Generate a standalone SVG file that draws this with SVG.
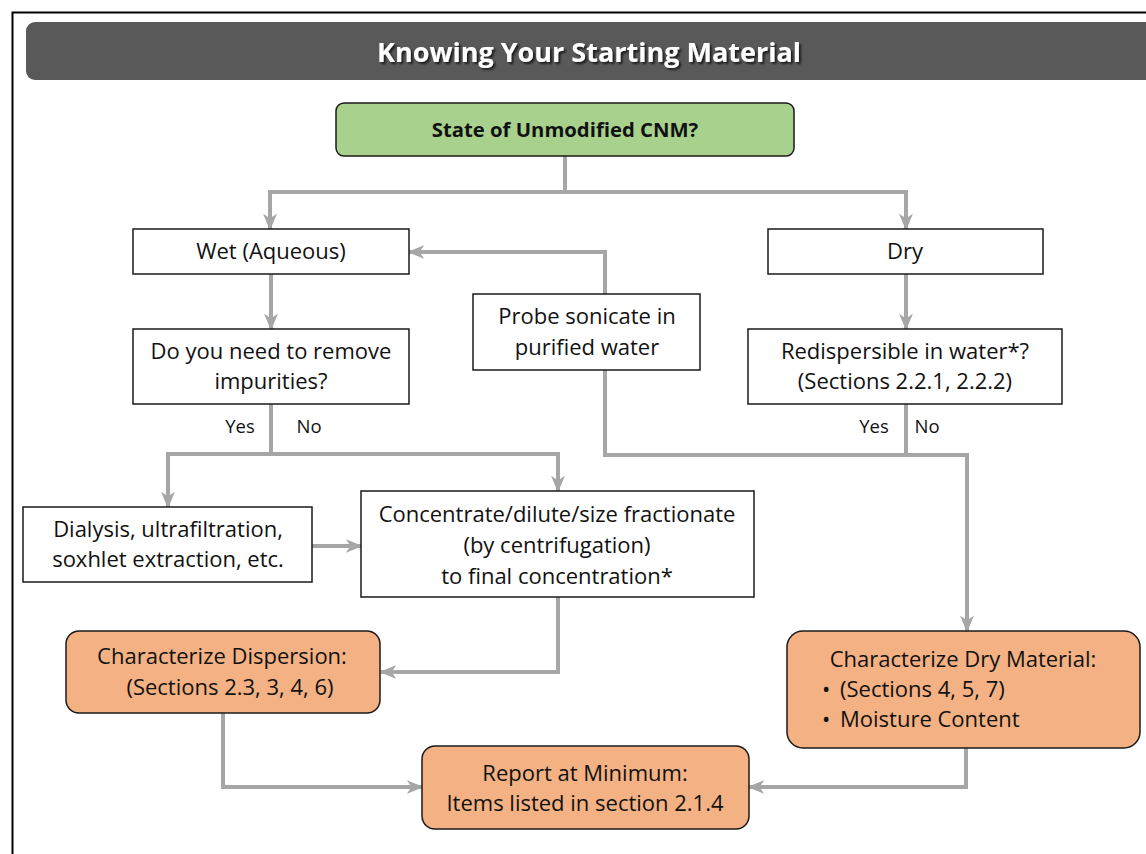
<svg xmlns="http://www.w3.org/2000/svg" width="1146" height="854" viewBox="0 0 1146 854">
  <style>
    .box { fill: #ffffff; stroke: #1a1a1a; stroke-width: 1.5; }
    .start { fill: #a9d18e; stroke: #1a1a1a; stroke-width: 1.5; }
    .result { fill: #f4b183; stroke: #1a1a1a; stroke-width: 1.5; }
    .t { font-family: "Open Sans", "DejaVu Sans", sans-serif; font-size: 22px; fill: #111111; text-anchor: middle; }
    .left { text-anchor: start; }
    .lbl { font-family: "Open Sans", "DejaVu Sans", sans-serif; font-size: 18.5px; fill: #111111; text-anchor: middle; }
    .bold { font-weight: bold; }
    .conn { fill: none; stroke: #a6a6a6; stroke-width: 4; stroke-linejoin: miter; }
    .arrow { marker-end: url(#head); }
  </style>
  <defs>
    <marker id="head" viewBox="0 0 12 10" refX="11" refY="5" markerWidth="4.2" markerHeight="3.6" orient="auto" markerUnits="strokeWidth">
      <path d="M0,0 L12,5 L0,10 L3.5,5 Z" fill="#a6a6a6"/>
    </marker>
    <filter id="shadow" x="-5%" y="-20%" width="110%" height="150%">
      <feDropShadow dx="2" dy="2" stdDeviation="1.2" flood-color="#000000" flood-opacity="0.7"/>
    </filter>
  </defs>

  <rect width="1146" height="854" fill="#ffffff"/>
  <!-- frame -->
  <path d="M12.5,854 V12.5 H1146" fill="none" stroke="#000000" stroke-width="2"/>

  <!-- title bar -->
  <g id="title">
    <rect x="26" y="22" width="1130" height="58" rx="9" fill="#595959"/>
    <text x="589" y="62" font-family="'Open Sans', 'DejaVu Sans', sans-serif" font-size="27" font-weight="bold" fill="#ffffff" text-anchor="middle" filter="url(#shadow)">Knowing Your Starting Material</text>
  </g>

  <!-- connectors -->
  <g id="connectors">
    <path class="conn arrow" d="M565,156 V192 H270 V229"/>
    <path class="conn arrow" d="M565,192 H906 V229"/>
    <path class="conn arrow" d="M271,274 V329"/>
    <path class="conn arrow" d="M271,404 V454 H168 V507"/>
    <path class="conn arrow" d="M271,454 H558 V491"/>
    <path class="conn arrow" d="M312,546 H361"/>
    <path class="conn arrow" d="M558,597 V672 H381"/>
    <path class="conn arrow" d="M906,274 V329"/>
    <path class="conn arrow" d="M906,404 V455 H605 V252 H409"/>
    <path class="conn arrow" d="M906,455 H967 V631"/>
    <path class="conn arrow" d="M223,713 V787 H422"/>
    <path class="conn arrow" d="M966,748 V787 H749"/>
  </g>

  <!-- nodes -->
  <g id="state">
    <rect class="start" x="336" y="103" width="458" height="53" rx="8"/>
    <text class="t bold" x="565" y="137" style="font-size:20.3px">State of Unmodified CNM?</text>
  </g>

  <g id="wet">
    <rect class="box" x="133" y="229" width="276" height="45"/>
    <text class="t" x="271" y="259">Wet (Aqueous)</text>
  </g>

  <g id="dry">
    <rect class="box" x="768" y="229" width="275" height="45"/>
    <text class="t" x="905" y="259">Dry</text>
  </g>

  <g id="impurities">
    <rect class="box" x="133" y="329" width="276" height="75"/>
    <text class="t" x="271" y="359">Do you need to remove</text>
    <text class="t" x="271" y="389">impurities?</text>
    <text class="lbl" x="240" y="433">Yes</text>
    <text class="lbl" x="309" y="433">No</text>
  </g>

  <g id="sonicate">
    <rect class="box" x="473" y="294" width="227" height="76"/>
    <text class="t" x="587" y="324">Probe sonicate in</text>
    <text class="t" x="587" y="355">purified water</text>
  </g>

  <g id="redispersible">
    <rect class="box" x="748" y="329" width="314" height="75"/>
    <text class="t" x="905" y="359">Redispersible in water*?</text>
    <text class="t" x="905" y="389">(Sections 2.2.1, 2.2.2)</text>
    <text class="lbl" x="874" y="433">Yes</text>
    <text class="lbl" x="927" y="433">No</text>
  </g>

  <g id="cleanup">
    <rect class="box" x="23" y="507" width="289" height="75"/>
    <text class="t" x="168" y="537">Dialysis, ultrafiltration,</text>
    <text class="t" x="168" y="567">soxhlet extraction, etc.</text>
  </g>

  <g id="concentrate">
    <rect class="box" x="361" y="491" width="393" height="106"/>
    <text class="t" x="557" y="522">Concentrate/dilute/size fractionate</text>
    <text class="t" x="557" y="553">(by centrifugation)</text>
    <text class="t" x="557" y="584">to final concentration*</text>
  </g>

  <g id="dispersion">
    <rect class="result" x="66" y="631" width="314" height="82" rx="13"/>
    <text class="t" x="222" y="664">Characterize Dispersion:</text>
    <text class="t" x="230" y="695">(Sections 2.3, 3, 4, 6)</text>
  </g>

  <g id="drymaterial">
    <rect class="result" x="787" y="631" width="353" height="117" rx="16"/>
    <text class="t" x="963" y="667">Characterize Dry Material:</text>
    <text class="t left" x="822" y="697">•</text>
    <text class="t left" x="840" y="697">(Sections 4, 5, 7)</text>
    <text class="t left" x="822" y="727">•</text>
    <text class="t left" x="840" y="727">Moisture Content</text>
  </g>

  <g id="report">
    <rect class="result" x="422" y="746" width="327" height="83" rx="13"/>
    <text class="t" x="585" y="781">Report at Minimum:</text>
    <text class="t" x="585" y="811">Items listed in section 2.1.4</text>
  </g>
</svg>
